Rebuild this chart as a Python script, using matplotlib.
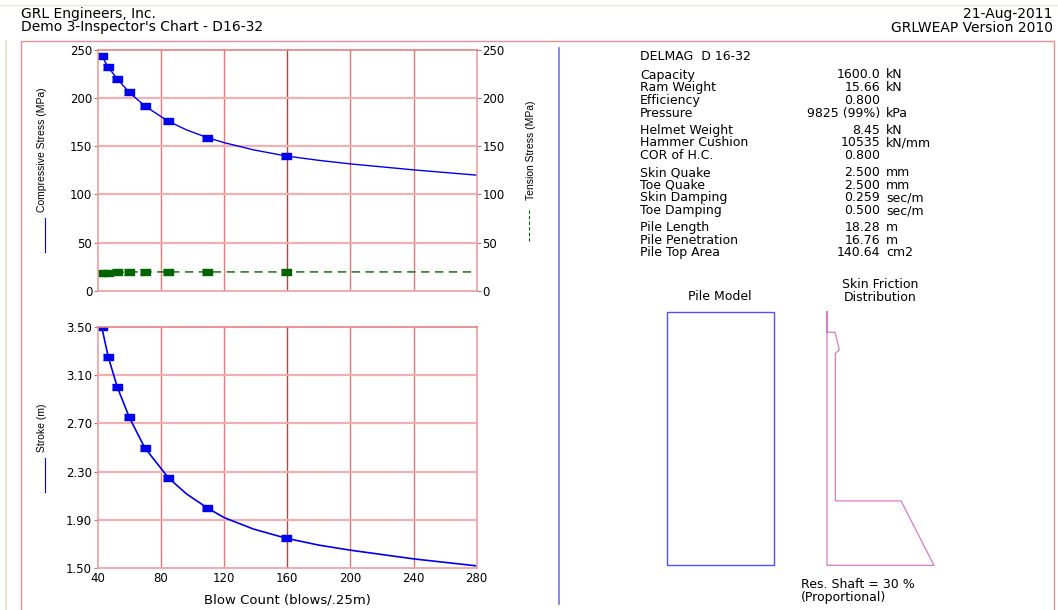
import matplotlib.pyplot as plt
from matplotlib.patches import Rectangle
from matplotlib.lines import Line2D

plt.rcParams['font.family'] = ['DejaVu Sans']

# inspector's chart data (blow count vs. stress / stroke)
blow_count = [42.5, 46.7, 52.4, 60.0, 69.7, 84.7, 109.4, 159.0]
comp_stress = [244, 232, 220, 206, 192, 176, 159, 140]
tens_stress = [18.0, 18.5, 19.0, 19.5, 19.5, 19.5, 19.5, 19.5]
stroke = [3.50, 3.25, 3.00, 2.75, 2.50, 2.25, 2.00, 1.75]

# curve traces (computed points plus the in-between and tail readings)
curve_blows = [42.5, 46.7, 52.4, 60.0, 69.7, 84.7, 96.3, 109.4, 120.0, 138.6,
               159.0, 180, 200, 240, 280]
curve_comp = [244, 232, 220, 206, 192, 176, 167, 159, 153.8, 146.3,
              140, 135.4, 131.7, 125.5, 120.0]
curve_tens = [18.0, 18.5, 19.0, 19.5, 19.5, 19.5, 19.5, 19.5, 19.5, 19.5,
              19.5, 19.5, 19.5, 19.5, 19.5]
curve_stroke = [3.50, 3.25, 3.00, 2.75, 2.50, 2.25, 2.115, 2.00, 1.92, 1.825,
                1.75, 1.692, 1.65, 1.578, 1.52]

stress_ticks = [0, 50, 100, 150, 200, 250]
stroke_ticks = [1.50, 1.90, 2.30, 2.70, 3.10, 3.50]
blow_ticks = [40, 80, 120, 160, 200, 240, 280]

hammer_info = [
    [("Capacity", "1600.0", "kN"), ("Ram Weight", "15.66", "kN"),
     ("Efficiency", "0.800", ""), ("Pressure", "9825 (99%)", "kPa")],
    [("Helmet Weight", "8.45", "kN"), ("Hammer Cushion", "10535", "kN/mm"),
     ("COR of H.C.", "0.800", "")],
    [("Skin Quake", "2.500", "mm"), ("Toe Quake", "2.500", "mm"),
     ("Skin Damping", "0.259", "sec/m"), ("Toe Damping", "0.500", "sec/m")],
    [("Pile Length", "18.28", "m"), ("Pile Penetration", "16.76", "m"),
     ("Pile Top Area", "140.64", "cm2")],
]

# skin friction distribution (relative friction, relative depth)
sf_friction = [0, 0, 0.075, 0.115, 0.078, 0.078, 0.692, 1.0, 0, 0]
sf_depth = [0, 0.081, 0.081, 0.151, 0.164, 0.746, 0.746, 1.0, 1.0, 0]

W, H = 1058, 610
fig = plt.figure(figsize=(W / 100, H / 100), dpi=100)


def rect(x0, y0, x1, y1):
    return [x0 / W, 1 - y1 / H, (x1 - x0) / W, (y1 - y0) / H]


def px(x, y):
    return x / W, 1 - y / H


grid_v = '#e87878'
grid_v_dark = '#b84040'
grid_h = '#f4b0b0'
spine_c = '#eca0a0'
blue = '#0000ee'
green = '#006400'
sq = [(-1.55, -1), (1.55, -1), (1.55, 1), (-1.55, 1)]
TXT = 9


def style_axes(ax, yticks):
    for v in blow_ticks[1:-1]:
        ax.axvline(v, color=grid_v_dark if v == 160 else grid_v, lw=1.0, zorder=0)
    for v in yticks[1:-1]:
        ax.axhline(v, color=grid_h, lw=1.6, zorder=0)
    for s in ax.spines.values():
        s.set_color(spine_c)
        s.set_linewidth(1.2)
    ax.spines['top'].set_color('#e88080')
    ax.tick_params(length=3, width=0.8, color='#888888', labelsize=8.5, pad=1)


# --- compressive / tension stress
ax1 = fig.add_axes(rect(97.7, 50, 476.7, 290.7))
ax1.set_xlim(40, 280)
ax1.set_ylim(0, 250)
ax1.set_xticks(blow_ticks)
ax1.set_xticklabels([])
ax1.set_yticks(stress_ticks)
style_axes(ax1, stress_ticks)
ax1.tick_params(axis='x', length=0)
ax1.plot(curve_blows, curve_comp, color=blue, lw=1.0)
ax1.plot(blow_count, comp_stress, ls='none', marker=sq, ms=7, color=blue)
ax1.plot(curve_blows, curve_tens, color=green, lw=1.0, dashes=(6, 4))
ax1.plot(blow_count, tens_stress, ls='none', marker=sq, ms=7, color=green)
ax1r = ax1.twinx()
ax1r.set_ylim(0, 250)
ax1r.set_yticks(stress_ticks)
ax1r.tick_params(length=3, width=0.8, color='#888888', labelsize=8.5, pad=1)
for s in ax1r.spines.values():
    s.set_visible(False)

# --- stroke
ax2 = fig.add_axes(rect(97.7, 326.7, 476.7, 568.3))
ax2.set_xlim(40, 280)
ax2.set_ylim(1.5, 3.5)
ax2.set_xticks(blow_ticks)
ax2.set_yticks(stroke_ticks)
ax2.set_yticklabels(['%.2f' % v for v in stroke_ticks])
style_axes(ax2, stroke_ticks)
ax2.tick_params(axis='x', length=0, pad=3)
ax2.plot(curve_blows, curve_stroke, color=blue, lw=1.2)
ax2.plot(blow_count, stroke, ls='none', marker=sq, ms=7, color=blue)
ax2.set_xlabel("Blow Count (blows/.25m)", fontsize=9.5, labelpad=6)

# axis titles with legend ticks
fig.text(*px(42, 150), "Compressive Stress (MPa)", rotation=90, ha='center',
         va='center', fontsize=7.5, family='Liberation Sans')
fig.add_artist(Line2D([45 / W] * 2, [1 - 218 / H, 1 - 252 / H], color=blue, lw=0.8))
fig.text(*px(531, 150), "Tension Stress (MPa)", rotation=90, ha='center',
         va='center', fontsize=7.5, family='Liberation Sans')
fig.add_artist(Line2D([529 / W] * 2, [1 - 210 / H, 1 - 241 / H], color=green,
                      lw=0.8, dashes=(3, 2)))
fig.text(*px(42, 428), "Stroke (m)", rotation=90, ha='center',
         va='center', fontsize=7.5, family='Liberation Sans')
fig.add_artist(Line2D([45 / W] * 2, [1 - 458 / H, 1 - 492 / H], color=blue, lw=0.8))

# frame and divider
fig.add_artist(Line2D([21 / W, 21 / W, 1054 / W, 1054 / W],
                      [0, 1 - 41 / H, 1 - 41 / H, 0], color='#e89090', lw=1.0))
fig.add_artist(Line2D([6 / W] * 2, [0, 1 - 41 / H], color='#e4dcc4', lw=1.2))
fig.add_artist(Line2D([0, 1], [1 - 5 / H] * 2, color='#e8e4dc', lw=1.0))
fig.add_artist(Line2D([559 / W] * 2, [1 - 48 / H, 1 - 604 / H], color='#7070ff', lw=1.2))

# header
fig.text(*px(21, 14), "GRL Engineers, Inc.", fontsize=10, va='center')
fig.text(*px(21, 27.5), "Demo 3-Inspector's Chart - D16-32", fontsize=10, va='center')
fig.text(*px(1053, 14), "21-Aug-2011", fontsize=10, va='center', ha='right')
fig.text(*px(1053, 27.5), "GRLWEAP Version 2010", fontsize=10, va='center', ha='right')

# hammer / pile parameters
fig.text(*px(640, 56), "DELMAG  D 16-32", fontsize=TXT, va='center')
y = 75
for group in hammer_info:
    for label, value, unit in group:
        fig.text(*px(640, y), label, fontsize=TXT, va='center')
        fig.text(*px(880, y), value, fontsize=TXT, va='center', ha='right')
        fig.text(*px(886, y), unit, fontsize=TXT, va='center')
        y += 12.7
    y += 4.3

# pile model
axp = fig.add_axes(rect(666.7, 311.7, 774.3, 565.3))
axp.set_axis_off()
axp.add_patch(Rectangle((0, 0), 1, 1, fill=False, ec='#5050ff', lw=1.0,
                        transform=axp.transAxes, clip_on=False))
fig.text(*px(720, 297), "Pile Model", fontsize=TXT, va='center', ha='center')

# skin friction distribution
axs = fig.add_axes(rect(827, 311.7, 934, 565.3))
axs.set_axis_off()
axs.set_xlim(0, 1)
axs.set_ylim(1, 0)
axs.plot(sf_friction, sf_depth, color='#d878c8', lw=0.9, clip_on=False)
fig.text(*px(880, 285), "Skin Friction", fontsize=TXT, va='center', ha='center')
fig.text(*px(880, 297.5), "Distribution", fontsize=TXT, va='center', ha='center')
fig.text(*px(801, 584), "Res. Shaft = 30 %", fontsize=TXT, va='center')
fig.text(*px(801, 597), "(Proportional)", fontsize=TXT, va='center')

fig.savefig("out.png", dpi=100)
